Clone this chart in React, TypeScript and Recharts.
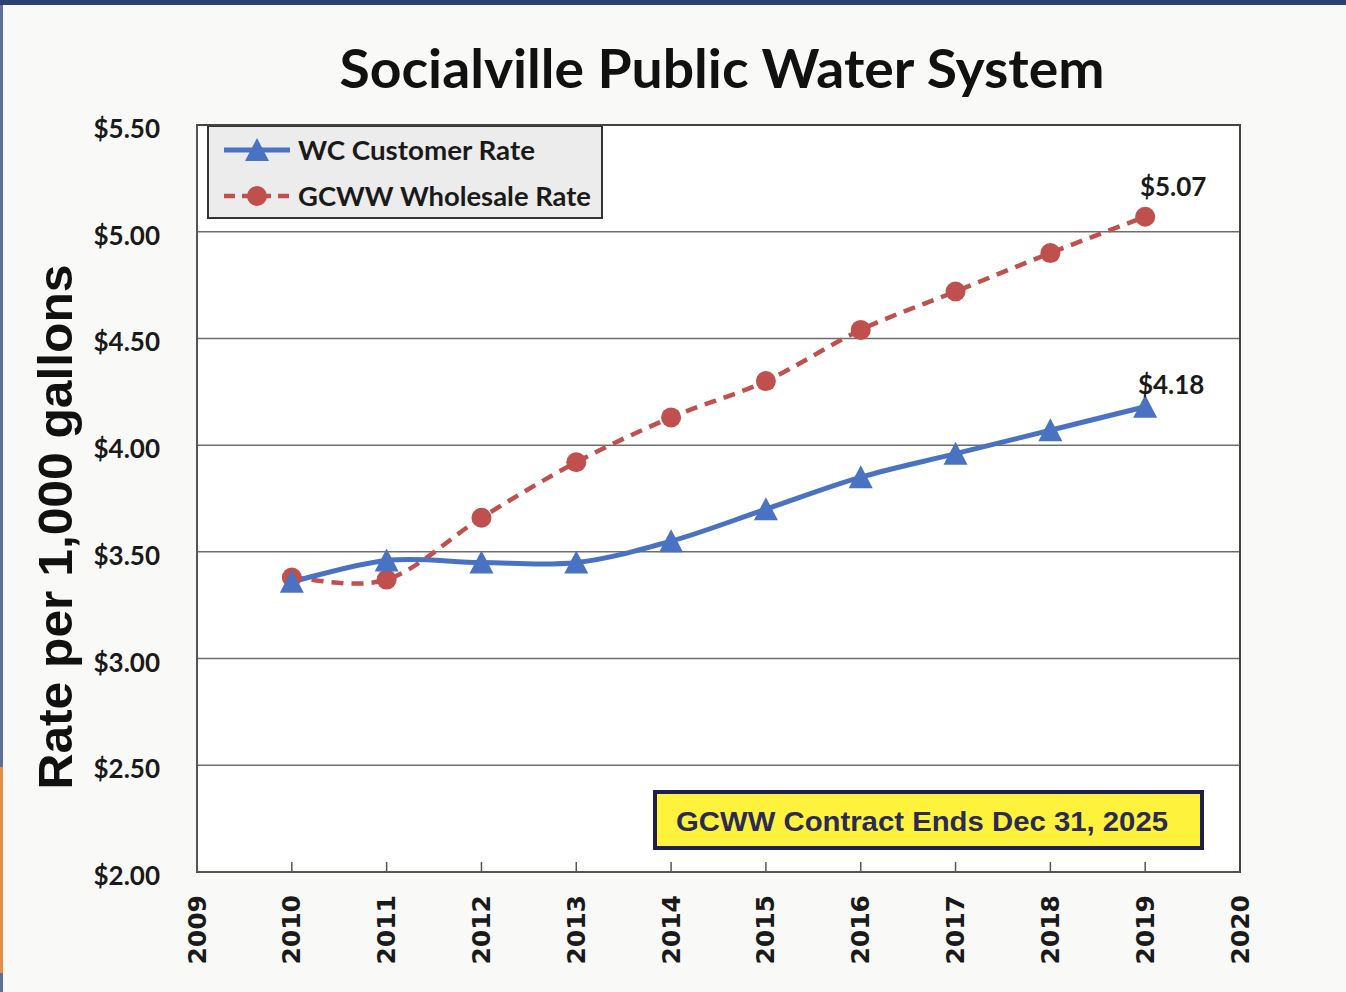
import React from 'react';
import { LineChart, Line, XAxis, YAxis, CartesianGrid, ReferenceArea, Customized } from 'recharts';

const years = [2010, 2011, 2012, 2013, 2014, 2015, 2016, 2017, 2018, 2019];
const wcCustomerRate = [3.36, 3.46, 3.45, 3.45, 3.55, 3.70, 3.85, 3.96, 4.07, 4.18];
const gcwwWholesaleRate = [3.38, 3.37, 3.66, 3.92, 4.13, 4.30, 4.54, 4.72, 4.90, 5.07];
const xTicks = [2009, 2010, 2011, 2012, 2013, 2014, 2015, 2016, 2017, 2018, 2019, 2020];
const yTicks = [2.0, 2.5, 3.0, 3.5, 4.0, 4.5, 5.0, 5.5];
const titleText = 'Socialville Public Water System';
const yAxisTitle = 'Rate per 1,000 gallons';
const noteText = 'GCWW Contract Ends Dec 31, 2025';
const seriesNames = { wc: 'WC Customer Rate', gcww: 'GCWW Wholesale Rate' };

const data = years.map((y, i) => ({ year: y, wc: wcCustomerRate[i], gcww: gcwwWholesaleRate[i] }));

const BLUE = '#4A72C2';
const RED = '#C0504D';
const CAL = 'Lato, "Open Sans", sans-serif';

// Excel-like smoothing (uniform Catmull-Rom)
function catmullRom(context: any) {
  let pts: number[][] = [];
  return {
    areaStart() {},
    areaEnd() {},
    lineStart() { pts = []; },
    point(x: number, y: number) { pts.push([+x, +y]); },
    lineEnd() {
      const n = pts.length;
      if (!n) return;
      context.moveTo(pts[0][0], pts[0][1]);
      for (let i = 0; i < n - 1; i++) {
        const p0 = pts[i - 1] || pts[i];
        const p1 = pts[i];
        const p2 = pts[i + 1];
        const p3 = pts[i + 2] || p2;
        const c1x = p1[0] + (p2[0] - p0[0]) / 6;
        const c1y = p1[1] + (p2[1] - p0[1]) / 6;
        const c2x = p2[0] - (p3[0] - p1[0]) / 6;
        const c2y = p2[1] - (p3[1] - p1[1]) / 6;
        context.bezierCurveTo(c1x, c1y, c2x, c2y, p2[0], p2[1]);
      }
    },
  };
}

const Triangle = (props: any) => {
  const { cx, cy } = props;
  if (cx == null || cy == null) return null;
  return <path d={`M${cx},${cy - 12} L${cx + 12},${cy + 11} L${cx - 12},${cy + 11} Z`} fill={BLUE} />;
};

const Circle = (props: any) => {
  const { cx, cy } = props;
  if (cx == null || cy == null) return null;
  return <circle cx={cx} cy={cy} r={10} fill={RED} />;
};

const XTick = (props: any) => {
  const { x, y, payload } = props;
  const v = payload.value;
  const inner = v !== 2009 && v !== 2020;
  return (
    <g>
      {inner && <line x1={x} x2={x} y1={y - 10} y2={y} stroke="#555" strokeWidth={1.5} />}
      <text
        transform={`translate(${x},${y + 23}) rotate(-90)`}
        textAnchor="end"
        dominantBaseline="central"
        fontFamily='"DejaVu Sans", sans-serif'
        fontWeight="bold"
        fontSize={25}
        fill="#1a1a1a"
      >
        {v}
      </text>
    </g>
  );
};

const YTick = (props: any) => {
  const { x, y, payload } = props;
  return (
    <text x={x} y={y + 3} textAnchor="end" dominantBaseline="central" fontFamily={CAL} fontWeight="bold" fontSize={26} fill="#1a1a1a">
      {`$${Number(payload.value).toFixed(2)}`}
    </text>
  );
};

const makeEndLabel = (dx: number, dy: number) => (props: any) => {
  const { x, y, index, value } = props;
  if (index !== years.length - 1) return null;
  return (
    <text x={x + dx} y={y + dy} textAnchor="middle" dominantBaseline="central" fontFamily={CAL} fontWeight="bold" fontSize={26} fill="#1a1a1a">
      {`$${Number(value).toFixed(2)}`}
    </text>
  );
};

const Extras = () => (
  <g>
    <text x={722} y={67} textAnchor="middle" dominantBaseline="central" fontFamily={CAL} fontWeight="bold" fontSize={54} fill="#111" textLength={765} lengthAdjust="spacingAndGlyphs">
      {titleText}
    </text>
    <text
      transform="translate(55,527) rotate(-90)"
      textAnchor="middle"
      dominantBaseline="central"
      fontFamily='"Liberation Sans", Arial, sans-serif'
      fontWeight="bold"
      fontSize={48}
      fill="#111"
      textLength={525}
      lengthAdjust="spacingAndGlyphs"
    >
      {yAxisTitle}
    </text>
    {/* legend */}
    <g>
      <rect x={208} y={126} width={394} height={92} fill="#ececec" stroke="#333" strokeWidth={2} />
      <line x1={224} x2={290} y1={150} y2={150} stroke={BLUE} strokeWidth={5} />
      <path d="M257,138 L269,161 L245,161 Z" fill={BLUE} />
      <line x1={224} x2={290} y1={196} y2={196} stroke={RED} strokeWidth={4.5} strokeDasharray="11 7" />
      <circle cx={257} cy={196} r={10} fill={RED} />
      <text x={298} y={150} dominantBaseline="central" fontFamily={CAL} fontWeight="bold" fontSize={26.5} fill="#1a1a1a" textLength={237} lengthAdjust="spacingAndGlyphs">
        {seriesNames.wc}
      </text>
      <text x={298} y={196} dominantBaseline="central" fontFamily={CAL} fontWeight="bold" fontSize={26.5} fill="#1a1a1a" textLength={293} lengthAdjust="spacingAndGlyphs">
        {seriesNames.gcww}
      </text>
    </g>
    <rect x={655} y={792} width={547} height={56} fill="#FFF23C" stroke="#1F1F4D" strokeWidth={4} />
    <text x={922} y={821} textAnchor="middle" dominantBaseline="central" fontFamily='"Liberation Sans", Arial, sans-serif' fontWeight="bold" fontSize={28.5} fill="#2A2A55" textLength={492} lengthAdjust="spacingAndGlyphs">
      {noteText}
    </text>
  </g>
);

export default function App() {
  return (
    <div style={{ position: 'absolute', left: 0, top: 0, width: 1346, height: 992, background: '#f9f9f8', overflow: 'hidden' }}>
      <div style={{ position: 'absolute', left: 0, top: 0, width: 1346, height: 5, background: '#2E3F73' }} />
      <div style={{ position: 'absolute', left: 0, top: 5, width: 3, height: 987, background: '#5b6f9a' }} />
      <div style={{ position: 'absolute', left: 0, top: 767, width: 3, height: 206, background: '#E0904A' }} />
      <LineChart width={1346} height={992} data={data} margin={{ top: 125, right: 106, bottom: 20, left: 87 }}>
        <CartesianGrid vertical={false} stroke="#6e6e6e" strokeWidth={1.5} fill="#ffffff" fillOpacity={1} />
        <XAxis
          dataKey="year"
          type="number"
          domain={[2009, 2020]}
          ticks={xTicks}
          interval={0}
          height={100}
          tickSize={0}
          tickMargin={0}
          tickLine={false}
          axisLine={{ stroke: '#555', strokeWidth: 2 }}
          tick={<XTick />}
        />
        <YAxis
          type="number"
          domain={[2, 5.5]}
          ticks={yTicks}
          interval={0}
          width={110}
          tickLine={false}
          tickMargin={37}
          tickSize={0}
          axisLine={{ stroke: '#555', strokeWidth: 2 }}
          tick={<YTick />}
        />
        <ReferenceArea x1={2009} x2={2020} y1={2} y2={5.5} fill="none" stroke="#444" strokeWidth={2} ifOverflow="visible" />
        <Customized component={<Extras />} />
        <Line
          dataKey="gcww"
          name={seriesNames.gcww}
          type={catmullRom as any}
          stroke={RED}
          strokeWidth={4.5}
          strokeDasharray="12 8"
          dot={<Circle />}
          activeDot={false}
          isAnimationActive={false}
          label={makeEndLabel(28, -31)}
        />
        <Line
          dataKey="wc"
          name={seriesNames.wc}
          type={catmullRom as any}
          stroke={BLUE}
          strokeWidth={5}
          dot={<Triangle />}
          activeDot={false}
          isAnimationActive={false}
          label={makeEndLabel(26, -23)}
        />
      </LineChart>
    </div>
  );
}
